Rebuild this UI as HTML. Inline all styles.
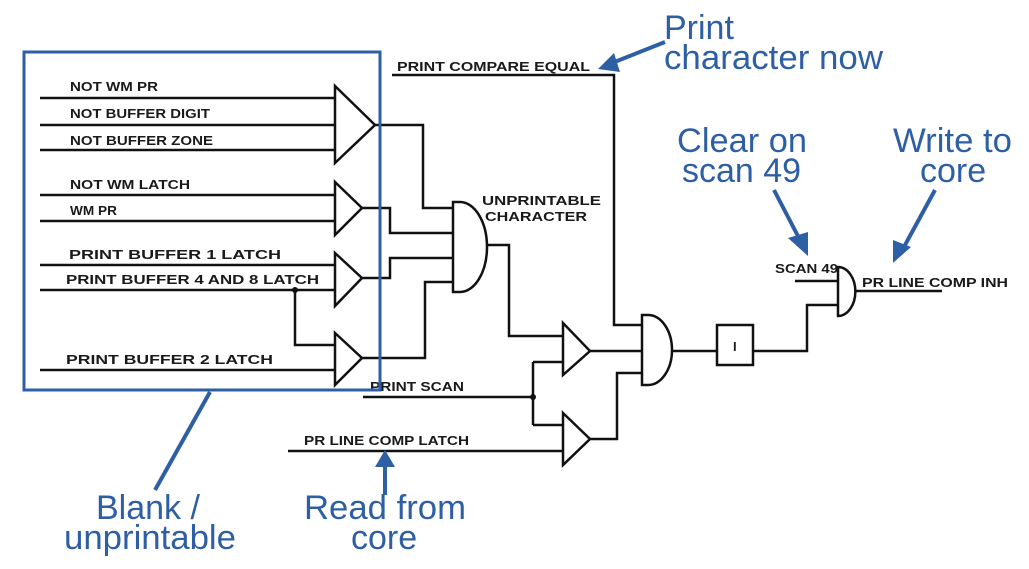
<!DOCTYPE html>
<html><head><style>
html,body{margin:0;padding:0;background:#fff;width:1029px;height:569px;overflow:hidden}
svg{display:block}
.t{font-family:"Liberation Sans",sans-serif;font-size:13px;font-weight:bold;fill:#1a1a1a}
.b{font-family:"Liberation Sans",sans-serif;font-size:34px;fill:#2e5fa5}
</style></head><body>
<svg width="1029" height="569" viewBox="0 0 1029 569">
<g fill="none" stroke="#111" stroke-width="2.5">
<path d="M40 98H335M40 125H335M40 150H335M40 195H335M40 221H335M40 265H335M40 290H335M40 370H335"/>
<path d="M295 290V345H335"/>
<path d="M335 86L375 125L335 163Z" fill="#fff"/>
<path d="M335 182L362 208L335 235Z" fill="#fff"/>
<path d="M335 253L362 278L335 306Z" fill="#fff"/>
<path d="M335 333L362 358L335 385Z" fill="#fff"/>
<path d="M375 125H423V208H453M362 208H390V233H453M362 278H390V258H453M362 358H425V282H453"/>
<path d="M453 202H460A27 45 0 0 1 460 292H453Z" fill="#fff"/>
<path d="M487 245H509V336H563"/>
<path d="M563 323L590 351L563 375Z" fill="#fff"/>
<path d="M563 413L590 439L563 465Z" fill="#fff"/>
<path d="M363 397H533M533 362V425M533 362H563M533 425H563M288 451H563"/>
<path d="M590 351H642M590 439H617V373H642M392 75H614V325H642"/>
<path d="M642 315H648A24 35 0 0 1 648 385H642Z" fill="#fff"/>
<path d="M671 351H717M753 351H807V305H838"/>
<rect x="717" y="325" width="36" height="40" fill="#fff"/>
<path d="M795 281H838"/>
<path d="M838 267A17 24 0 0 1 838 316Z" fill="#fff"/>
<path d="M855 291H942"/>
</g>
<circle cx="295" cy="290" r="3" fill="#111"/>
<circle cx="533" cy="397" r="3" fill="#111"/>
<text x="733" y="351" class="t" font-size="14">I</text>
<g class="t" font-size="14">
<text x="70" y="91" textLength="88" lengthAdjust="spacingAndGlyphs">NOT WM PR</text>
<text x="70" y="118" textLength="140" lengthAdjust="spacingAndGlyphs">NOT BUFFER DIGIT</text>
<text x="70" y="145" textLength="143" lengthAdjust="spacingAndGlyphs">NOT BUFFER ZONE</text>
<text x="70" y="189" textLength="120" lengthAdjust="spacingAndGlyphs">NOT WM LATCH</text>
<text x="70" y="215" textLength="47" lengthAdjust="spacingAndGlyphs">WM PR</text>
<text x="69" y="259" textLength="212" lengthAdjust="spacingAndGlyphs">PRINT BUFFER 1 LATCH</text>
<text x="66" y="284" textLength="253" lengthAdjust="spacingAndGlyphs">PRINT BUFFER 4 AND 8 LATCH</text>
<text x="66" y="364" textLength="207" lengthAdjust="spacingAndGlyphs">PRINT BUFFER 2 LATCH</text>
<text x="397" y="71" textLength="193" lengthAdjust="spacingAndGlyphs">PRINT COMPARE  EQUAL</text>
<text x="482" y="205" textLength="119" lengthAdjust="spacingAndGlyphs">UNPRINTABLE</text>
<text x="485" y="221" textLength="102" lengthAdjust="spacingAndGlyphs">CHARACTER</text>
<text x="370" y="391" textLength="94" lengthAdjust="spacingAndGlyphs">PRINT SCAN</text>
<text x="304" y="445" textLength="165" lengthAdjust="spacingAndGlyphs">PR LINE COMP LATCH</text>
<text x="775" y="273" textLength="63" lengthAdjust="spacingAndGlyphs">SCAN 49</text>
<text x="862" y="287" textLength="146" lengthAdjust="spacingAndGlyphs">PR LINE COMP INH</text>
</g>
<rect x="24" y="52" width="356" height="338" fill="none" stroke="#2e5fa5" stroke-width="3"/>
<g stroke="#2e5fa5" stroke-width="4" fill="#2e5fa5">
<line x1="665" y1="42" x2="612" y2="63"/><path d="M598 69L614 53L620 72Z" stroke="none"/>
<line x1="774" y1="190" x2="800" y2="240"/><path d="M808 256L788 238L808 232Z" stroke="none"/>
<line x1="935" y1="190" x2="905" y2="245"/><path d="M893 263L893 240L911 247Z" stroke="none"/>
<line x1="385" y1="495" x2="385" y2="465"/><path d="M385 450L375 467L395 467Z" stroke="none"/>
<line x1="210" y1="392" x2="155" y2="490"/>
</g>
<g class="b">
<text x="664" y="39">Print</text>
<text x="664" y="69" textLength="219" lengthAdjust="spacingAndGlyphs">character now</text>
<text x="677" y="152" textLength="130" lengthAdjust="spacingAndGlyphs">Clear on</text>
<text x="682" y="182">scan 49</text>
<text x="893" y="152" textLength="119" lengthAdjust="spacingAndGlyphs">Write to</text>
<text x="920" y="182">core</text>
<text x="96" y="519">Blank /</text>
<text x="64" y="549" textLength="172" lengthAdjust="spacingAndGlyphs">unprintable</text>
<text x="304" y="519" textLength="162" lengthAdjust="spacingAndGlyphs">Read from</text>
<text x="351" y="549">core</text>
</g>
</svg>
</body></html>
